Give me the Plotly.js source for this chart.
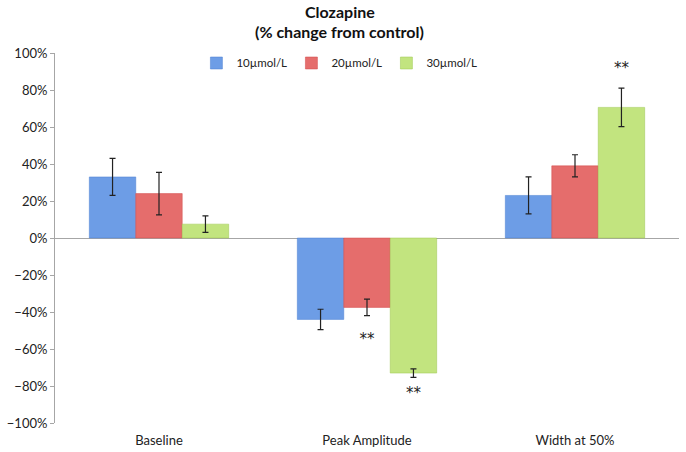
<!DOCTYPE html>
<html>
<head>
<meta charset="utf-8">
<script src="https://cdn.plot.ly/plotly-3.0.1.min.js"></script>
<style>
  html, body { margin: 0; padding: 0; background: #fff; }
  #chart { width: 686px; height: 452px; }
</style>
</head>
<body>
<div id="chart"></div>
<script>
// values, % change from control
const categories = ['Baseline', 'Peak Amplitude', 'Width at 50%'];
const seriesNames = ['10\u00b5mol/L', '20\u00b5mol/L', '30\u00b5mol/L'];
const dose10 = [33, -44, 23];
const dose20 = [24, -37.5, 39];
const dose30 = [7.5, -73, 70.6];
const err10 = [10, 5.5, 10];
const err20 = [11.5, 4.5, 6];
const err30 = [4.5, 2.3, 10.4];
// significance marks: category, series index, y position
const starCats = ['Peak Amplitude', 'Peak Amplitude', 'Width at 50%'];
const starSeries = [1, 2, 2];
const starY = [-55, -84.5, 91];

const colors = ['#6d9de6', '#e56d6c', '#c2e47f'];
const lines = ['#4a7fd0', '#d04848', '#9cc64e'];
const values = [dose10, dose20, dose30];
const errors = [err10, err20, err30];

const font = 'Lato, "Open Sans", "DejaVu Sans", sans-serif';

const traces = values.map((v, i) => ({
  type: 'bar',
  name: seriesNames[i],
  x: categories,
  y: v,
  marker: {color: colors[i], line: {color: lines[i], width: 0.5}},
  error_y: {type: 'data', array: errors[i], visible: true, color: '#222', thickness: 1.2, width: 3},
  hoverinfo: 'none'
}));

// stars placed over the matching bar inside its group
const offsets = [-1, 0, 1];
const starX = starCats.map((c, k) => categories.indexOf(c) + offsets[starSeries[k]] * 0.223);
traces.push({
  type: 'scatter',
  mode: 'text',
  x: starX,
  y: starY,
  text: starCats.map(() => '**'),
  textfont: {family: '"DejaVu Sans", sans-serif', size: 15, color: '#222'},
  showlegend: false,
  hoverinfo: 'none',
  xaxis: 'x2'
});

const layout = {
  width: 686,
  height: 452,
  paper_bgcolor: '#fff',
  plot_bgcolor: '#fff',
  margin: {l: 55, r: 7, t: 53, b: 29},
  font: {family: font, size: 13, color: '#222'},
  annotations: [
    {text: '<b>Clozapine</b>', xref: 'paper', yref: 'paper', x: 0.456, y: 1.111,
     showarrow: false, xanchor: 'center', yanchor: 'middle',
     font: {family: font, size: 16, color: '#111'}},
    {text: '<b>(% change from control)</b>', xref: 'paper', yref: 'paper', x: 0.456, y: 1.057,
     showarrow: false, xanchor: 'center', yanchor: 'middle',
     font: {family: font, size: 16, color: '#111'}}
  ],
  barmode: 'group',
  bargap: 0.33,
  bargroupgap: 0,
  showlegend: true,
  legend: {
    orientation: 'h',
    x: 0.455, xanchor: 'center',
    y: 0.973, yanchor: 'middle',
    bgcolor: 'rgba(0,0,0,0)',
    font: {family: font, size: 11.5, color: '#222'},
    itemwidth: 30,
    entrywidth: 50,
    traceorder: 'normal'
  },
  xaxis: {
    type: 'category',
    showline: false,
    showgrid: false,
    zeroline: false,
    ticks: '',
    ticklabelstandoff: 8,
    tickfont: {family: font, size: 13, color: '#222'}
  },
  xaxis2: {
    overlaying: 'x',
    range: [-0.5, 2.5],
    visible: false
  },
  yaxis: {
    range: [-100, 100],
    dtick: 20,
    ticksuffix: '%',
    showgrid: false,
    showline: true,
    linecolor: '#a6a6a6',
    linewidth: 1,
    ticks: 'outside',
    ticklen: 4,
    tickcolor: '#a6a6a6',
    zeroline: true,
    zerolinecolor: '#a6a6a6',
    zerolinewidth: 1,
    tickfont: {family: font, size: 13, color: '#222'}
  }
};

Plotly.newPlot('chart', traces, layout, {displayModeBar: false, staticPlot: true});
</script>
</body>
</html>
